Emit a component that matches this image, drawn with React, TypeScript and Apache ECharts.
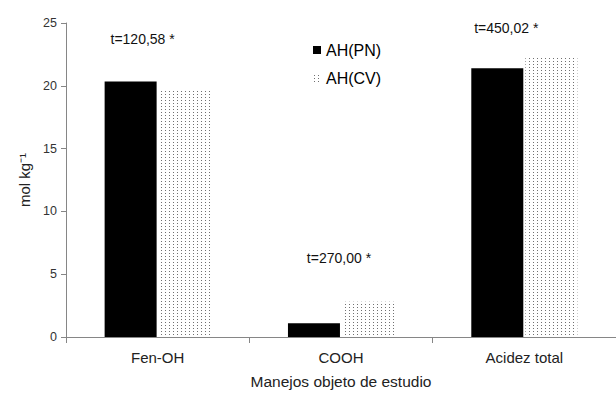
import React, { useEffect, useRef } from "react";
import * as echarts from "echarts";

const categories = ["Fen-OH", "COOH", "Acidez total"];
const seriesNames = ["AH(PN)", "AH(CV)"];
const pnValues = [20.35, 1.1, 21.4];
const cvValues = [19.7, 2.8, 22.35];
const yTicks = { min: 0, max: 25, interval: 5 };
const annotations = [
  { cat: "Fen-OH", y: 23.7, text: "t=120,58 *", dx: -15 },
  { cat: "COOH", y: 6.3, text: "t=270,00 *", dx: -2 },
  { cat: "Acidez total", y: 24.6, text: "t=450,02 *", dx: -18 },
];

function makeDots(): string {
  const c = document.createElement("canvas");
  c.width = 4;
  c.height = 3;
  const ctx = c.getContext("2d")!;
  ctx.fillStyle = "#ffffff";
  ctx.fillRect(0, 0, 4, 3);
  ctx.fillStyle = "#707070";
  ctx.fillRect(1, 1, 1, 1);
  return c.toDataURL();
}

export default function App() {
  const ref = useRef<HTMLDivElement>(null);
  useEffect(() => {
    document.body.style.margin = "0";
    const chart = echarts.init(ref.current!, null, { renderer: "svg" });
    const dots = makeDots();
    const font = "'Liberation Sans', Arial, sans-serif";
    const barW = 52;
    chart.setOption({
      animation: false,
      backgroundColor: "#ffffff",
      textStyle: { fontFamily: font },
      grid: { left: 66, right: -11, top: 23, bottom: 48 },
      legend: {
        orient: "vertical",
        left: 308,
        top: 37,
        itemWidth: 8,
        itemHeight: 8,
        itemGap: 12,
        icon: "rect",
        textStyle: { fontSize: 16, color: "#000", fontFamily: font },
        data: seriesNames,
      },
      xAxis: {
        type: "category",
        data: categories,
        name: "Manejos objeto de estudio",
        nameLocation: "middle",
        nameGap: 36,
        nameTextStyle: { fontSize: 15.5, color: "#222", fontFamily: font },
        axisLine: { lineStyle: { color: "#868686", width: 1 } },
        axisTick: { show: true, length: 6, lineStyle: { color: "#868686" }, alignWithLabel: false },
        axisLabel: { fontSize: 15, color: "#222", margin: 13, fontFamily: font },
      },
      yAxis: {
        type: "value",
        min: yTicks.min,
        max: yTicks.max,
        interval: yTicks.interval,
        name: "mol kg⁻¹",
        nameLocation: "middle",
        nameGap: 28,
        nameTextStyle: { fontSize: 15, color: "#222", fontFamily: font },
        splitLine: { show: false },
        axisLine: { show: true, lineStyle: { color: "#868686", width: 1 } },
        axisTick: { show: true, length: 5, lineStyle: { color: "#868686" } },
        axisLabel: { fontSize: 12.5, color: "#333", margin: 9, fontFamily: font },
      },
      series: [
        {
          name: seriesNames[0],
          type: "bar",
          data: pnValues,
          barWidth: barW,
          barGap: "4%",
          itemStyle: { color: "#000000" },
          markPoint: {
            symbol: "circle",
            symbolSize: 0,
            itemStyle: { color: "transparent" },
            data: annotations.map((a) => ({
              coord: [a.cat, a.y],
              value: a.text,
              label: {
                show: true,
                formatter: a.text,
                offset: [a.dx + barW / 2 + 1, 0],
                fontSize: 14,
                color: "#111",
                fontFamily: font,
              },
            })),
          },
        },
        {
          name: seriesNames[1],
          type: "bar",
          data: cvValues,
          barWidth: barW,
          itemStyle: { color: { image: dots, repeat: "repeat" } },
        },
      ],
    });
    return () => chart.dispose();
  }, []);
  return <div ref={ref} style={{ width: 616, height: 394 }} />;
}
